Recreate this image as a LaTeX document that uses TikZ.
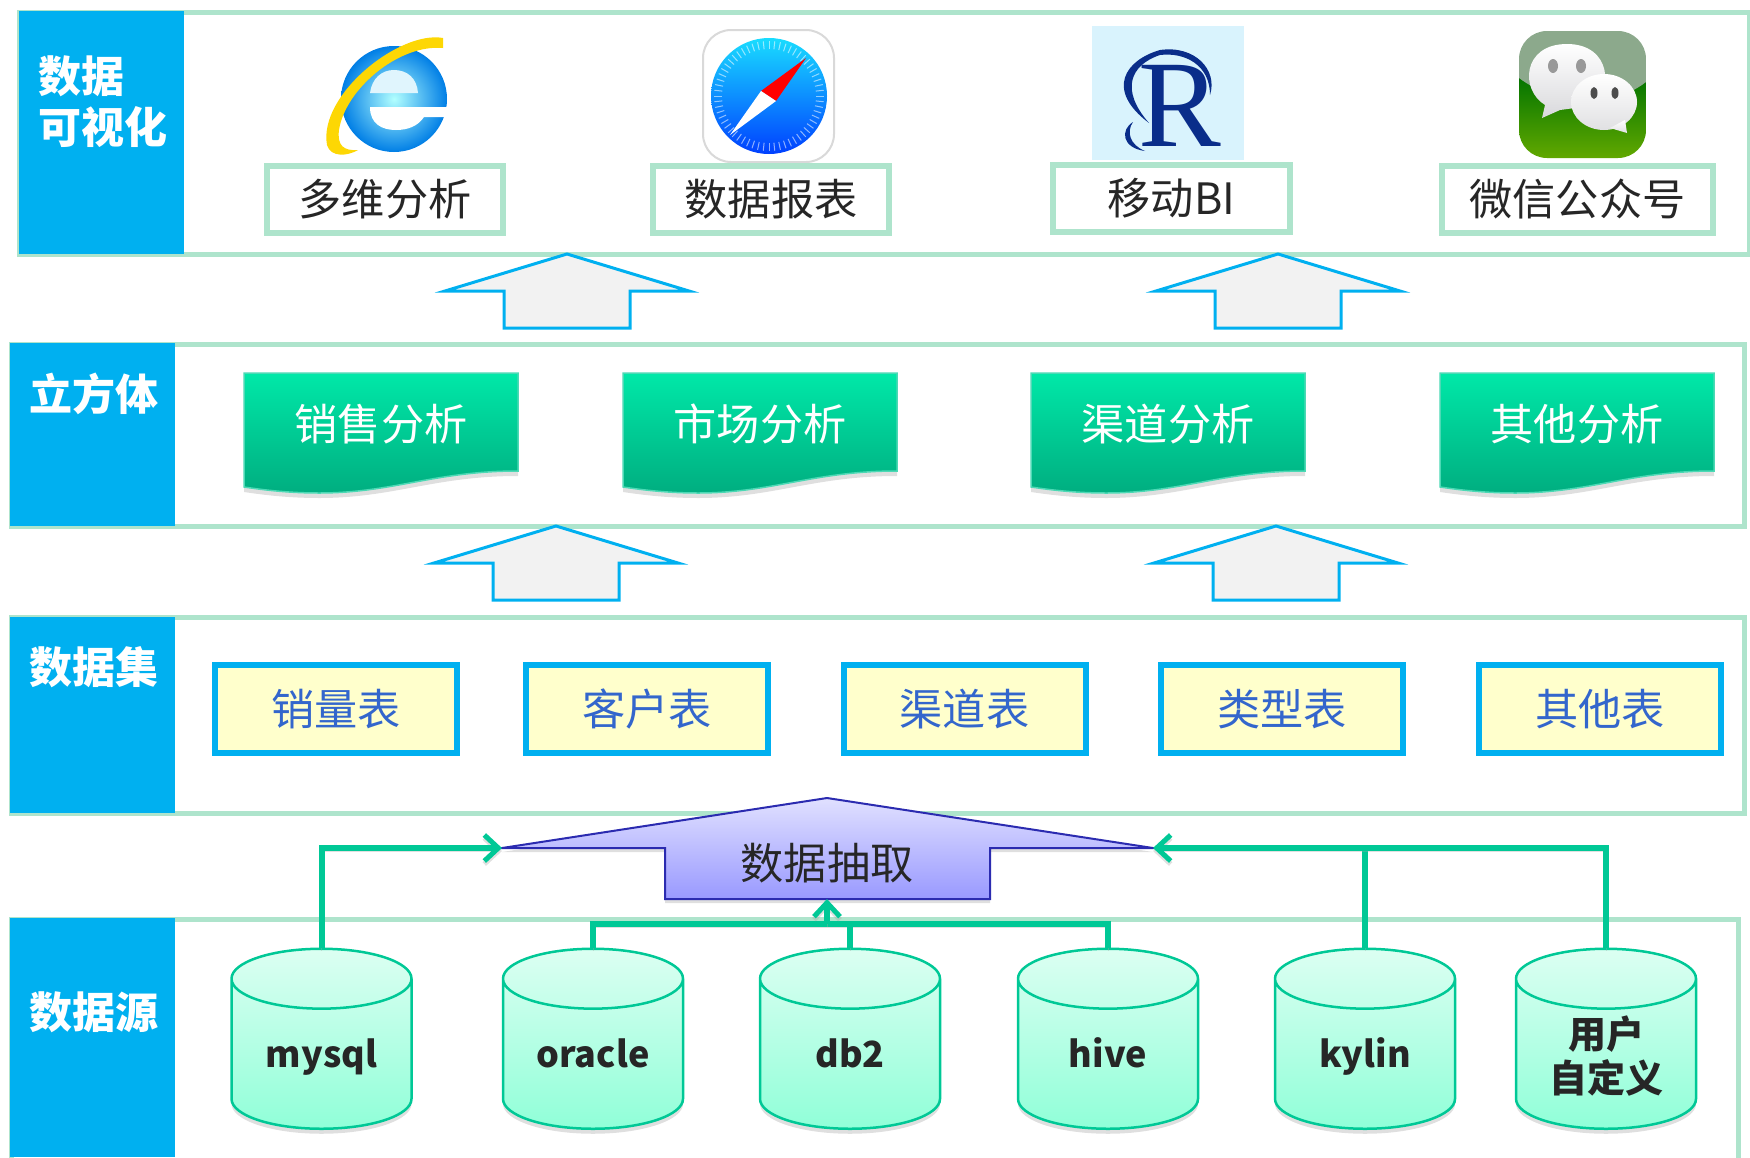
\documentclass[tikz,border=0pt]{standalone}
\usepackage{fontspec}
\setmainfont{Noto Sans CJK SC}
\newfontfamily\serifr{Liberation Serif}
\usetikzlibrary{arrows.meta,positioning,calc,shadows,shapes.geometric}

\definecolor{panelline}{HTML}{AEE4CC}
\definecolor{headblue}{HTML}{00B0F0}
\definecolor{darktext}{HTML}{262626}
\definecolor{linkgreen}{HTML}{00C896}
\definecolor{tableblue}{HTML}{3366CC}
\definecolor{tablefill}{HTML}{FFFFCC}
\definecolor{extractline}{HTML}{2B2BB0}
\definecolor{dbtop}{HTML}{DCFFF2}
\definecolor{dbbottom}{HTML}{90FFD8}
\definecolor{doctop}{HTML}{00E8A8}
\definecolor{docbottom}{HTML}{00AE80}
\definecolor{iconblue}{HTML}{0A2D8A}

\newcommand{\sz}[1]{\fontsize{#1}{22}\selectfont}

\tikzset{
	panel/.style={draw=panelline, line width=2.5pt},
	headbox/.style={fill=headblue},
	headtext/.style={text=white, font=\sz{21.5}\bfseries, inner sep=0pt},
	labelbox/.style={draw=panelline, line width=3pt, fill=white, text=darktext, font=\sz{21.6}, minimum height=33.5pt, inner sep=0pt},
	tablebox/.style={draw=headblue, line width=3pt, fill=tablefill, text=tableblue, font=\sz{21.6}, minimum width=121pt, minimum height=44pt, inner sep=0pt},
	blockarrow/.style={draw=headblue, line width=1.5pt, fill=black!5, miter limit=20},
	conn/.style={draw=linkgreen, line width=3pt, preaction={draw=black!35, opacity=.35, transform canvas={yshift=-1.5pt}}},
	connhead/.style={conn, -{Straight Barb[length=7pt,width=13pt,line width=2.5pt]}},
	dbstore/.style={cylinder, shape border rotate=90, aspect=.565, anchor=south, draw=linkgreen, line width=1.25pt, minimum width=90pt, minimum height=90pt, inner sep=0pt, text width=53pt, text height=14pt, text depth=4pt, top color=dbtop, bottom color=dbbottom, drop shadow={shadow xshift=0pt, shadow yshift=-2.5pt, opacity=.25}},
	dbname/.style={font=\sz{18}\bfseries, text=darktext, align=center, inner sep=0pt},
	docshape/.style={draw=linkgreen!70, line width=.75pt, top color=doctop, bottom color=docbottom, drop shadow={shadow xshift=0pt, shadow yshift=-2.5pt, opacity=.25}},
}

\begin{document}
\begin{tikzpicture}[x=.5pt,y=-.5pt]
	\useasboundingbox (0,0) rectangle (1750,1157);

	% panels
	\draw[panel] (19,12) rectangle (1749,254);
	\draw[panel] (11,344) rectangle (1744,526);
	\draw[panel] (11,617) rectangle (1744,813);
	\draw[panel] (11,919) rectangle (1738,1170);
	\fill[headbox] (19,11) rectangle (184,254);
	\fill[headbox] (10,343) rectangle (175,526);
	\fill[headbox] (10,617) rectangle (175,813);
	\fill[headbox] (10,918) rectangle (175,1157);
	\node[headtext, anchor=west] (headview1) at (38,76) {数据};
	\node[headtext, anchor=west] (headview2) at (38,127) {可视化};
	\node[headtext] (headcube) at (94,394) {立方体};
	\node[headtext] (headset) at (94,667) {数据集};
	\node[headtext] (headsource) at (94,1012) {数据源};

	% browser icon
	\begin{scope}
		\shade[inner color=cyan!30, outer color=blue!45!cyan!90!black] (394,99) ellipse (53 and 53);
		\fill[cyan!12] (370,93) .. controls (372,78) and (382,70) .. (394,70) .. controls (407,70) and (417,78) .. (418,93) -- cycle;
		\fill[white] (370,107) -- (448,107) -- (448,117) -- (424,117) .. controls (418,126) and (408,130) .. (396,130) .. controls (382,130) and (370,124) .. (370,107) -- cycle;
		\fill[yellow!75!orange] (443,38) .. controls (400,30) and (318,95) .. (327,145) .. controls (331,158) and (348,156) .. (358,150) .. controls (344,151) and (337,146) .. (339,130) .. controls (345,90) and (398,44) .. (443,48) -- cycle;
	\end{scope}

	% compass icon
	\draw[black!15, line width=1pt, fill=white, rounded corners=14pt] (703,30) rectangle (834,162);
	\shade[top color=cyan!85!blue!90, bottom color=blue!75!cyan] (769,96) circle (58);
	\foreach \tk in {0,6,...,354}
		\draw[white, opacity=.55, line width=.5pt] ($(769,96)+(\tk:47)$) -- ($(769,96)+(\tk:55)$);
	\fill[red] (806,58) -- (761,91) -- (776,101) -- cycle;
	\fill[white] (730,135) -- (761,91) -- (776,101) -- cycle;

	% R icon
	\fill[cyan!15] (1092,26) rectangle (1244,160);
	\node[text=iconblue, font=\serifr\sz{62}, inner sep=0pt] (ricon) at (1180,106) {R};
	\fill[iconblue] (1160,50) .. controls (1125,60) and (1105,90) .. (1149,123) .. controls (1120,90) and (1130,65) .. (1160,55) .. controls (1185,52) and (1210,65) .. (1210,95) .. controls (1218,70) and (1195,45) .. (1160,50) -- cycle;
	\fill[iconblue] (1133,122) .. controls (1120,130) and (1122,148) .. (1145,151) .. controls (1130,145) and (1126,132) .. (1133,122) -- cycle;

	% chat icon
	\begin{scope}
		\clip[rounded corners=14pt] (1519,31) rectangle (1646,158);
		\shade[top color=green!45!black, bottom color=green!55!orange!85!black] (1519,75) rectangle (1646,158);
		\fill[green!25!black!45!white] (1519,31) -- (1646,31) -- (1646,82) .. controls (1610,110) and (1555,105) .. (1519,78) -- cycle;
	\end{scope}
	\shade[top color=white, bottom color=blue!8!black!15] (1542,118) -- (1545,105) .. controls (1520,90) and (1522,44) .. (1567,44) .. controls (1612,44) and (1614,92) .. (1590,106) -- (1560,110) -- cycle;
	\fill[black!40] (1553,66) ellipse (5 and 7);
	\fill[black!40] (1581,66) ellipse (5 and 7);
	\shade[top color=white, bottom color=blue!8!black!12] (1604,102) ellipse (33 and 28);
	\shade[top color=white, bottom color=blue!8!black!12] (1627,133) -- (1610,128) -- (1625,120) -- cycle;
	\fill[black!70] (1594,93) ellipse (3.5 and 6);
	\fill[black!70] (1615,93) ellipse (3.5 and 6);

	% output labels
	\node[labelbox, minimum width=118pt] (multi) at (385,199) {多维分析};
	\node[labelbox, minimum width=118pt] (report) at (771,199) {数据报表};
	\node[labelbox, minimum width=118.5pt] (mobile) at (1171.5,198) {移动BI};
	\node[labelbox, minimum width=135.5pt] (wechat) at (1577.5,199) {微信公众号};

	% block arrows
	\foreach \ax/\ay in {567/254,1278/254,556/526,1276/526}
		\draw[blockarrow] (\ax,\ay) -- ++(122,37) -- ++(-59,0) -- ++(0,37) -- ++(-126,0) -- ++(0,-37) -- ++(-59,0) -- cycle;

	% cube boxes
	\foreach \dx/\dname/\dtext in {244/sale/销售分析,623/market/市场分析,1031/channel/渠道分析,1440/others/其他分析} {
		\begin{scope}[shift={(\dx,0)}]
			\draw[docshape] (0,373) -- (274,373) -- (274,471) .. controls (190,471) and (150,493) .. (75,493) .. controls (45,493) and (20,490) .. (0,487) -- cycle;
			\node[text=white, font=\sz{21.6}, inner sep=0pt] (\dname) at (137,424) {\dtext};
		\end{scope}
	}

	% tables
	\node[tablebox] (tbsale) at (336,709) {销量表};
	\node[tablebox] (tbcustom) at (647,709) {客户表};
	\node[tablebox] (tbchannel) at (964.5,709) {渠道表};
	\node[tablebox] (tbtype) at (1282,709) {类型表};
	\node[tablebox] (tbothers) at (1600,709) {其他表};

	% extraction arrow
	\draw[draw=extractline, line width=1pt, top color=blue!12, bottom color=blue!40, miter limit=30, drop shadow={shadow xshift=0pt, shadow yshift=-2pt, opacity=.25}] (827,798) -- (1153,848) -- (990,848) -- (990,899) -- (665,899) -- (665,848) -- (502,848) -- cycle;
	\node[text=darktext, font=\sz{21.6}, inner sep=0pt] (extract) at (827,863) {数据抽取};
	\coordinate (extractL) at (502,848);
	\coordinate (extractR) at (1153,848);
	\coordinate (extractB) at (827,899);
	\coordinate (bus) at (827,924);

	% sources
	\node[dbstore] (mysql) at (321.5,1130) {};
	\node[dbstore] (oracle) at (593,1130) {};
	\node[dbstore] (db2) at (850,1130) {};
	\node[dbstore] (hive) at (1108,1130) {};
	\node[dbstore] (kylin) at (1365,1130) {};
	\node[dbstore] (custom) at (1606,1130) {};
	\node[dbname, text height=14pt, text depth=4pt] (mysqlname) at (321.5,1057.5) {mysql};
	\node[dbname, text height=14pt, text depth=4pt] (oraclename) at (593,1057.5) {oracle};
	\node[dbname, text height=14pt, text depth=4pt] (db2name) at (850,1057.5) {db2};
	\node[dbname, text height=14pt, text depth=4pt] (hivename) at (1108,1057.5) {hive};
	\node[dbname, text height=14pt, text depth=4pt] (kylinname) at (1365,1057.5) {kylin};
	\node[dbname, font=\sz{19}\bfseries] (customname) at (1606,1056) {用户\\自定义};

	% links
	\draw[connhead] (mysql.north) |- (extractL);
	\draw[conn] (oracle.north) |- (bus) -| (hive.north);
	\draw[conn] (db2.north) -- (db2.north |- bus);
	\draw[connhead] (bus) -- (extractB);
	\draw[conn] (kylin.north) -- (kylin.north |- extractR);
	\draw[connhead] (custom.north) |- (extractR);
\end{tikzpicture}
\end{document}
